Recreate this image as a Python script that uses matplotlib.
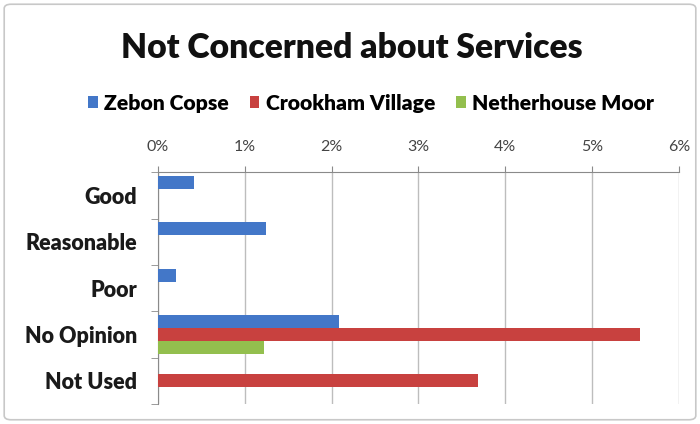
import numpy as np
import matplotlib.pyplot as plt
from matplotlib.patches import FancyBboxPatch
from matplotlib.ticker import FuncFormatter

plt.rcParams['font.family'] = ['Lato', 'DejaVu Sans']

# data (percent)
categories = ["Good", "Reasonable", "Poor", "No Opinion", "Not Used"]
series_names = ["Zebon Copse", "Crookham Village", "Netherhouse Moor"]
zebon = [0.42, 1.25, 0.21, 2.08, 0.0]
crookham = [0.0, 0.0, 0.0, 5.55, 3.69]
netherhouse = [0.0, 0.0, 0.0, 1.22, 0.0]
colors = ["#4377C8", "#C8413F", "#93BF4E"]

fig = plt.figure(figsize=(7, 4.24), dpi=100)
fig.patch.set_facecolor("white")

# grey chart frame
frame = FancyBboxPatch((0.006, 0.01), 0.988, 0.98, boxstyle="round,pad=0,rounding_size=0.01",
                       transform=fig.transFigure, facecolor="none", edgecolor="#C8C8C8", linewidth=1.2)
fig.patches.append(frame)

ax = fig.add_axes([0.2257, 0.047, 0.744, 0.547])

y = np.arange(len(categories))
h = 0.28
bars = []
for i, (vals, name) in enumerate(zip([zebon, crookham, netherhouse], series_names)):
    b = ax.barh(y + (i - 1) * h, vals, height=h, color=colors[i], label=name, zorder=3)
    bars.append(b)

ax.set_xlim(0, 6)
ax.set_ylim(len(categories) - 0.5, -0.5)
ax.set_xticks(range(0, 7))
ax.xaxis.set_major_formatter(FuncFormatter(lambda v, p: f"{int(v)}%"))
ax.xaxis.tick_top()
ax.tick_params(axis="x", colors="#8A8A8A", labelcolor="#444444", labelsize=11.5, length=4, pad=9)
ax.grid(axis="x", color="#BDBDBD", linewidth=1, zorder=0)

ax.set_yticks(y)
ax.set_yticklabels(categories, fontweight="heavy", fontsize=15.5, color="#1A1A1A")
ax.set_yticks(np.arange(-0.5, len(categories)), minor=True)
ax.tick_params(axis="y", which="major", length=0, pad=15)
ax.tick_params(axis="y", which="minor", length=5, color="#8A8A8A")

for side in ["right", "bottom"]:
    ax.spines[side].set_visible(False)
for side in ["top", "left"]:
    ax.spines[side].set_color("#8A8A8A")

fig.text(0.502, 0.887, "Not Concerned about Services", ha="center", va="center",
         fontsize=24.2, fontweight="heavy", color="#111111")

fig.legend(handles=bars, labels=series_names, loc="center", bbox_to_anchor=(0.53, 0.757),
           ncol=3, frameon=False, handlelength=0.45, handleheight=0.45, handletextpad=0.3,
           columnspacing=1.0, prop={"weight": "heavy", "size": 15.2})

plt.savefig("out.png", dpi=100)
